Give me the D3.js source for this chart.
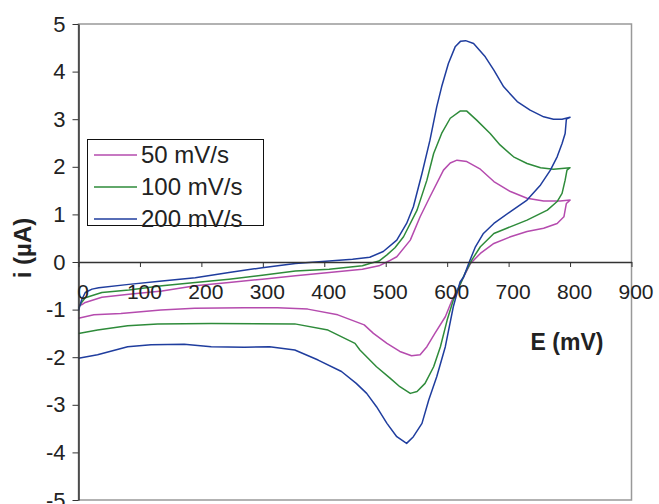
<!DOCTYPE html>
<html>
<head>
<meta charset="utf-8">
<script src="https://cdn.jsdelivr.net/npm/d3@7"></script>
<style>
  body { margin: 0; background: #fff; }
  text { font-family: "Liberation Sans", Arial, sans-serif; fill: #222; }
  .axis path, .axis line { stroke: #333; }
</style>
</head>
<body>
<div id="chart"></div>
<script>
const width = 659;
const height = 504;
const plot = { left: 78.5, right: 631.5, top: 24, bottom: 500 };

// E (mV), i (µA): forward scan 0 -> 800 then back to 0
const cv50 = [
  [0,-0.92],[5,-0.9],[11,-0.85],[38,-0.74],[82,-0.68],[136,-0.61],[190,-0.5],[245,-0.43],
  [299,-0.36],[353,-0.29],[408,-0.22],[462,-0.15],[489,-0.08],[505,0.02],[518,0.11],[540,0.46],
  [556,0.95],[572,1.37],[594,1.93],[605,2.08],[616,2.14],[632,2.11],[654,1.95],[676,1.69],
  [703,1.48],[730,1.34],[757,1.28],[784,1.28],[800,1.3],
  [794,1.23],[790,0.95],[779,0.81],[757,0.71],[730,0.64],[703,0.53],[676,0.39],[654,0.18],
  [638,-0.03],[627,-0.31],[618,-0.55],[608,-0.8],[597,-1.15],[580,-1.5],[567,-1.78],[556,-1.95],
  [542,-1.97],[523,-1.88],[502,-1.71],[480,-1.5],[465,-1.32],[422,-1.11],[373,-0.99],[324,-0.96],
  [270,-0.96],[189,-0.97],[134,-1.01],[69,-1.08],[25,-1.11],[0,-1.18]
];
const cv100 = [
  [0,-0.97],[5,-0.85],[11,-0.75],[38,-0.64],[82,-0.59],[136,-0.5],[190,-0.43],[245,-0.36],
  [299,-0.28],[353,-0.19],[408,-0.15],[462,-0.08],[474,-0.03],[489,0.02],[502,0.15],[515,0.3],
  [529,0.53],[551,1.09],[567,1.72],[578,2.28],[591,2.7],[605,3.02],[621,3.17],[632,3.17],
  [648,2.98],[670,2.7],[686,2.46],[708,2.21],[730,2.07],[752,1.98],[773,1.95],[800,1.98],
  [795,1.93],[792,1.72],[787,1.44],[779,1.27],[763,1.09],[730,0.88],[697,0.71],[676,0.6],
  [654,0.32],[640,0.04],[629,-0.24],[610,-0.8],[600,-1.22],[589,-1.78],[578,-2.2],[564,-2.55],
  [551,-2.72],[540,-2.76],[523,-2.62],[507,-2.44],[485,-2.2],[458,-1.85],[450,-1.71],[406,-1.43],
  [352,-1.3],[216,-1.29],[129,-1.3],[80,-1.34],[31,-1.43],[0,-1.5]
];
const cv200 = [
  [0,-1.02],[5,-0.8],[11,-0.64],[22,-0.57],[33,-0.54],[82,-0.47],[136,-0.4],[190,-0.33],
  [245,-0.22],[299,-0.12],[353,-0.03],[408,0.02],[446,0.06],[474,0.1],[496,0.22],[518,0.46],
  [534,0.81],[545,1.16],[559,1.86],[572,2.56],[583,3.26],[591,3.68],[602,4.17],[613,4.52],
  [622,4.64],[630,4.65],[643,4.59],[662,4.31],[676,4.03],[692,3.68],[714,3.37],[735,3.19],
  [757,3.05],[773,3.0],[787,3.0],[800,3.04],
  [794,3.0],[792,2.7],[787,2.49],[779,2.21],[768,1.93],[752,1.62],[730,1.3],[703,1.06],
  [676,0.81],[659,0.6],[646,0.32],[635,-0.03],[627,-0.31],[621,-0.42],[610,-0.94],[597,-1.78],
  [583,-2.41],[570,-2.9],[559,-3.39],[545,-3.67],[534,-3.81],[518,-3.67],[502,-3.39],[485,-3.04],
  [469,-2.76],[452,-2.55],[428,-2.3],[390,-2.06],[352,-1.85],[311,-1.78],[270,-1.79],[216,-1.78],
  [172,-1.73],[118,-1.74],[80,-1.78],[31,-1.95],[0,-2.02]
];

const seriesNames = ["50 mV/s", "100 mV/s", "200 mV/s"];
const seriesColors = ["#b54bae", "#2e8b3a", "#1f3d9e"];
const seriesData = [cv50, cv100, cv200];

const xTicks = [0, 100, 200, 300, 400, 500, 600, 700, 800, 900];
const yTicks = [-5, -4, -3, -2, -1, 0, 1, 2, 3, 4, 5];

const svg = d3.select("#chart").append("svg")
  .attr("width", width)
  .attr("height", height);

const xScale = d3.scaleLinear().domain([0, 900]).range([plot.left, plot.right]);
const yScale = d3.scaleLinear().domain([-5, 5]).range([plot.bottom, plot.top]);

// gray frame of plot area
svg.append("rect")
  .attr("x", plot.left).attr("y", plot.top)
  .attr("width", plot.right - plot.left).attr("height", plot.bottom - plot.top)
  .attr("fill", "none").attr("stroke", "#999").attr("stroke-width", 1.5);

// curves
const line = d3.line().x(d => xScale(d[0])).y(d => yScale(d[1]));
svg.selectAll(".cv")
  .data(seriesData)
  .enter()
  .append("path")
  .attr("class", "cv")
  .attr("d", d => line(d))
  .attr("fill", "none")
  .attr("stroke", (d, i) => seriesColors[i])
  .attr("stroke-width", 1.5)
  .attr("stroke-linejoin", "round");

// y axis
const yAxis = d3.axisLeft(yScale).tickValues(yTicks).tickSize(6).tickSizeOuter(0)
  .tickPadding(7).tickFormat(d => String(d));
const yAxisG = svg.append("g").attr("class", "axis")
  .attr("transform", "translate(" + plot.left + ",0)")
  .call(yAxis);
yAxisG.selectAll("text").style("font-size", "22px");
yAxisG.select(".domain").attr("stroke-width", 1.5);

// x axis on the zero line
const xAxis = d3.axisBottom(xScale).tickValues(xTicks).tickSize(5).tickSizeOuter(0)
  .tickPadding(17).tickFormat(d => String(d));
const xAxisG = svg.append("g").attr("class", "axis")
  .attr("transform", "translate(0," + yScale(0) + ")")
  .call(xAxis);
xAxisG.selectAll("text").style("font-size", "21px").attr("dx", 4);
xAxisG.select(".domain").attr("stroke-width", 1.5);

// axis titles
svg.append("text")
  .attr("transform", "translate(31," + 248 + ") rotate(-90)")
  .attr("text-anchor", "middle")
  .style("font-size", "24px").style("font-weight", "bold")
  .text("i (µA)");

svg.append("text")
  .attr("x", 567).attr("y", 350)
  .attr("text-anchor", "middle")
  .style("font-size", "23px").style("font-weight", "bold")
  .text("E (mV)");

// legend
const legend = svg.append("g");
legend.append("rect")
  .attr("x", 87.5).attr("y", 139.5).attr("width", 176).attr("height", 86)
  .attr("fill", "#fff").attr("stroke", "#111").attr("stroke-width", 1);
const rows = legend.selectAll(".row")
  .data(seriesNames)
  .enter()
  .append("g")
  .attr("transform", (d, i) => "translate(0," + (155 + i * 32) + ")");
rows.append("line")
  .attr("x1", 94).attr("x2", 137)
  .attr("stroke", (d, i) => seriesColors[i]).attr("stroke-width", 1.5);
rows.append("text")
  .attr("x", 141).attr("dy", "0.35em")
  .style("font-size", "24px")
  .text(d => d);
</script>
</body>
</html>
